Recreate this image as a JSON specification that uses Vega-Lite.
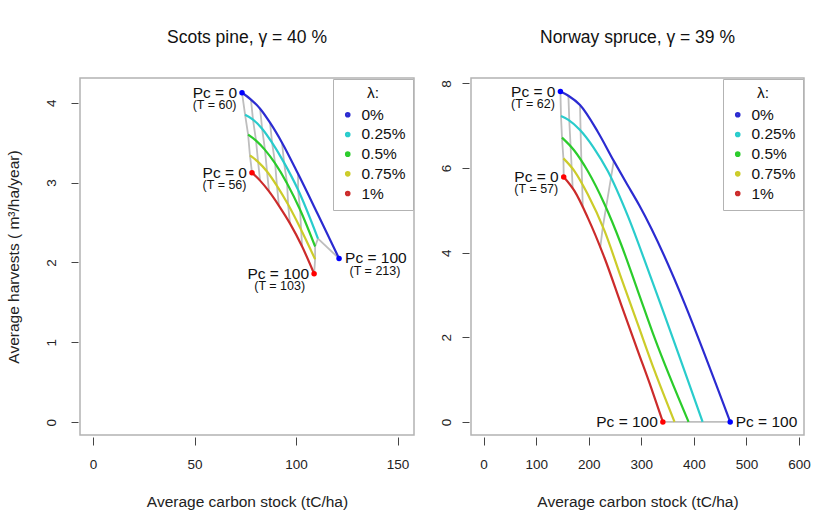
{
  "$schema": "https://vega.github.io/schema/vega-lite/v6.json",
  "background": "white",
  "padding": {"left": 5, "top": 28, "right": 5, "bottom": 5},
  "spacing": 57,
  "bounds": "flush",
  "datasets": {
    "curves": [
      {"p": "pine", "lam": "0%", "k": 0, "x": 73.4, "y": 4.125},
      {"p": "pine", "lam": "0%", "k": 1, "x": 77.8, "y": 4.04},
      {"p": "pine", "lam": "0%", "k": 2, "x": 82.3, "y": 3.925},
      {"p": "pine", "lam": "0%", "k": 3, "x": 87.2, "y": 3.75},
      {"p": "pine", "lam": "0%", "k": 4, "x": 93.1, "y": 3.5},
      {"p": "pine", "lam": "0%", "k": 5, "x": 101.0, "y": 3.11},
      {"p": "pine", "lam": "0%", "k": 6, "x": 110.8, "y": 2.6},
      {"p": "pine", "lam": "0%", "k": 7, "x": 121.2, "y": 2.05},
      {"p": "pine", "lam": "0.25%", "k": 0, "x": 74.9, "y": 3.85},
      {"p": "pine", "lam": "0.25%", "k": 1, "x": 78.8, "y": 3.79},
      {"p": "pine", "lam": "0.25%", "k": 2, "x": 83.3, "y": 3.675},
      {"p": "pine", "lam": "0.25%", "k": 3, "x": 88.2, "y": 3.5},
      {"p": "pine", "lam": "0.25%", "k": 4, "x": 94.1, "y": 3.25},
      {"p": "pine", "lam": "0.25%", "k": 5, "x": 101.0, "y": 2.91},
      {"p": "pine", "lam": "0.25%", "k": 6, "x": 110.8, "y": 2.3},
      {"p": "pine", "lam": "0.5%", "k": 0, "x": 76.4, "y": 3.6},
      {"p": "pine", "lam": "0.5%", "k": 1, "x": 80.3, "y": 3.525},
      {"p": "pine", "lam": "0.5%", "k": 2, "x": 84.7, "y": 3.41},
      {"p": "pine", "lam": "0.5%", "k": 3, "x": 89.7, "y": 3.24},
      {"p": "pine", "lam": "0.5%", "k": 4, "x": 95.6, "y": 2.99},
      {"p": "pine", "lam": "0.5%", "k": 5, "x": 102.0, "y": 2.66},
      {"p": "pine", "lam": "0.5%", "k": 6, "x": 109.4, "y": 2.2},
      {"p": "pine", "lam": "0.75%", "k": 0, "x": 77.3, "y": 3.34},
      {"p": "pine", "lam": "0.75%", "k": 1, "x": 81.3, "y": 3.26},
      {"p": "pine", "lam": "0.75%", "k": 2, "x": 85.7, "y": 3.14},
      {"p": "pine", "lam": "0.75%", "k": 3, "x": 90.6, "y": 2.96},
      {"p": "pine", "lam": "0.75%", "k": 4, "x": 96.1, "y": 2.725},
      {"p": "pine", "lam": "0.75%", "k": 5, "x": 102.5, "y": 2.41},
      {"p": "pine", "lam": "0.75%", "k": 6, "x": 109.4, "y": 2.04},
      {"p": "pine", "lam": "1%", "k": 0, "x": 78.3, "y": 3.125},
      {"p": "pine", "lam": "1%", "k": 1, "x": 82.3, "y": 3.025},
      {"p": "pine", "lam": "1%", "k": 2, "x": 86.7, "y": 2.89},
      {"p": "pine", "lam": "1%", "k": 3, "x": 91.6, "y": 2.71},
      {"p": "pine", "lam": "1%", "k": 4, "x": 97.0, "y": 2.49},
      {"p": "pine", "lam": "1%", "k": 5, "x": 103.0, "y": 2.2},
      {"p": "pine", "lam": "1%", "k": 6, "x": 108.9, "y": 1.86},
      {"p": "spruce", "lam": "0%", "k": 0, "x": 146.1, "y": 7.81},
      {"p": "spruce", "lam": "0%", "k": 1, "x": 161.3, "y": 7.71},
      {"p": "spruce", "lam": "0%", "k": 2, "x": 183.4, "y": 7.49},
      {"p": "spruce", "lam": "0%", "k": 3, "x": 217.1, "y": 6.86},
      {"p": "spruce", "lam": "0%", "k": 4, "x": 247.6, "y": 6.17},
      {"p": "spruce", "lam": "0%", "k": 5, "x": 270.5, "y": 5.67},
      {"p": "spruce", "lam": "0%", "k": 6, "x": 296.6, "y": 5.11},
      {"p": "spruce", "lam": "0%", "k": 7, "x": 469.1, "y": 0},
      {"p": "spruce", "lam": "0.25%", "k": 0, "x": 147.2, "y": 7.23},
      {"p": "spruce", "lam": "0.25%", "k": 1, "x": 161.3, "y": 7.14},
      {"p": "spruce", "lam": "0.25%", "k": 2, "x": 183.4, "y": 6.9},
      {"p": "spruce", "lam": "0.25%", "k": 3, "x": 209.5, "y": 6.48},
      {"p": "spruce", "lam": "0.25%", "k": 4, "x": 236.2, "y": 5.93},
      {"p": "spruce", "lam": "0.25%", "k": 5, "x": 274.3, "y": 4.87},
      {"p": "spruce", "lam": "0.25%", "k": 6, "x": 315.6, "y": 3.5},
      {"p": "spruce", "lam": "0.25%", "k": 7, "x": 416.6, "y": 0},
      {"p": "spruce", "lam": "0.5%", "k": 0, "x": 149.1, "y": 6.72},
      {"p": "spruce", "lam": "0.5%", "k": 1, "x": 172.8, "y": 6.41},
      {"p": "spruce", "lam": "0.5%", "k": 2, "x": 198.1, "y": 5.93},
      {"p": "spruce", "lam": "0.5%", "k": 3, "x": 229.9, "y": 5.15},
      {"p": "spruce", "lam": "0.5%", "k": 4, "x": 261.5, "y": 4.2},
      {"p": "spruce", "lam": "0.5%", "k": 5, "x": 293.3, "y": 3.1},
      {"p": "spruce", "lam": "0.5%", "k": 6, "x": 325.1, "y": 1.99},
      {"p": "spruce", "lam": "0.5%", "k": 7, "x": 389.9, "y": 0},
      {"p": "spruce", "lam": "0.75%", "k": 0, "x": 151.8, "y": 6.23},
      {"p": "spruce", "lam": "0.75%", "k": 1, "x": 172.8, "y": 5.93},
      {"p": "spruce", "lam": "0.75%", "k": 2, "x": 198.1, "y": 5.38},
      {"p": "spruce", "lam": "0.75%", "k": 3, "x": 229.9, "y": 4.52},
      {"p": "spruce", "lam": "0.75%", "k": 4, "x": 261.5, "y": 3.41},
      {"p": "spruce", "lam": "0.75%", "k": 5, "x": 293.3, "y": 2.31},
      {"p": "spruce", "lam": "0.75%", "k": 6, "x": 325.1, "y": 1.21},
      {"p": "spruce", "lam": "0.75%", "k": 7, "x": 363.2, "y": 0},
      {"p": "spruce", "lam": "1%", "k": 0, "x": 152.4, "y": 5.79},
      {"p": "spruce", "lam": "1%", "k": 1, "x": 172.8, "y": 5.46},
      {"p": "spruce", "lam": "1%", "k": 2, "x": 198.1, "y": 4.83},
      {"p": "spruce", "lam": "1%", "k": 3, "x": 229.9, "y": 3.88},
      {"p": "spruce", "lam": "1%", "k": 4, "x": 261.5, "y": 2.78},
      {"p": "spruce", "lam": "1%", "k": 5, "x": 293.3, "y": 1.68},
      {"p": "spruce", "lam": "1%", "k": 6, "x": 318.7, "y": 0.81},
      {"p": "spruce", "lam": "1%", "k": 7, "x": 341.0, "y": 0}
    ],
    "iso": [
      {"p": "pine", "g": "s", "o": 0, "x": 73.4, "y": 4.125},
      {"p": "pine", "g": "s", "o": 1, "x": 74.9, "y": 3.85},
      {"p": "pine", "g": "s", "o": 2, "x": 76.4, "y": 3.6},
      {"p": "pine", "g": "s", "o": 3, "x": 77.3, "y": 3.34},
      {"p": "pine", "g": "s", "o": 4, "x": 78.3, "y": 3.125},
      {"p": "pine", "g": "a", "o": 0, "x": 77.8, "y": 4.04},
      {"p": "pine", "g": "a", "o": 1, "x": 78.8, "y": 3.79},
      {"p": "pine", "g": "a", "o": 2, "x": 80.3, "y": 3.525},
      {"p": "pine", "g": "a", "o": 3, "x": 81.3, "y": 3.26},
      {"p": "pine", "g": "a", "o": 4, "x": 82.3, "y": 3.025},
      {"p": "pine", "g": "b", "o": 0, "x": 82.3, "y": 3.925},
      {"p": "pine", "g": "b", "o": 1, "x": 83.3, "y": 3.675},
      {"p": "pine", "g": "b", "o": 2, "x": 84.7, "y": 3.41},
      {"p": "pine", "g": "b", "o": 3, "x": 85.7, "y": 3.14},
      {"p": "pine", "g": "b", "o": 4, "x": 86.7, "y": 2.89},
      {"p": "pine", "g": "c", "o": 0, "x": 87.2, "y": 3.75},
      {"p": "pine", "g": "c", "o": 1, "x": 88.2, "y": 3.5},
      {"p": "pine", "g": "c", "o": 2, "x": 89.7, "y": 3.24},
      {"p": "pine", "g": "c", "o": 3, "x": 90.6, "y": 2.96},
      {"p": "pine", "g": "c", "o": 4, "x": 91.6, "y": 2.71},
      {"p": "pine", "g": "d", "o": 0, "x": 93.1, "y": 3.5},
      {"p": "pine", "g": "d", "o": 1, "x": 94.1, "y": 3.25},
      {"p": "pine", "g": "d", "o": 2, "x": 95.6, "y": 2.99},
      {"p": "pine", "g": "d", "o": 3, "x": 96.1, "y": 2.725},
      {"p": "pine", "g": "d", "o": 4, "x": 97.0, "y": 2.49},
      {"p": "pine", "g": "e", "o": 0, "x": 101.0, "y": 3.11},
      {"p": "pine", "g": "e", "o": 1, "x": 101.0, "y": 2.91},
      {"p": "pine", "g": "e", "o": 2, "x": 102.0, "y": 2.66},
      {"p": "pine", "g": "e", "o": 3, "x": 102.5, "y": 2.41},
      {"p": "pine", "g": "e", "o": 4, "x": 103.0, "y": 2.2},
      {"p": "pine", "g": "z", "o": 0, "x": 121.2, "y": 2.05},
      {"p": "pine", "g": "z", "o": 1, "x": 110.8, "y": 2.3},
      {"p": "pine", "g": "z", "o": 2, "x": 109.4, "y": 2.2},
      {"p": "pine", "g": "z", "o": 3, "x": 109.4, "y": 2.04},
      {"p": "pine", "g": "z", "o": 4, "x": 108.9, "y": 1.86},
      {"p": "spruce", "g": "s", "o": 0, "x": 146.1, "y": 7.81},
      {"p": "spruce", "g": "s", "o": 1, "x": 147.2, "y": 7.23},
      {"p": "spruce", "g": "s", "o": 2, "x": 149.1, "y": 6.72},
      {"p": "spruce", "g": "s", "o": 3, "x": 151.8, "y": 6.23},
      {"p": "spruce", "g": "s", "o": 4, "x": 152.4, "y": 5.79},
      {"p": "spruce", "g": "a", "o": 0, "x": 161.3, "y": 7.71},
      {"p": "spruce", "g": "a", "o": 1, "x": 163.0, "y": 7.12},
      {"p": "spruce", "g": "a", "o": 2, "x": 165.5, "y": 6.51},
      {"p": "spruce", "g": "a", "o": 3, "x": 167.5, "y": 6.01},
      {"p": "spruce", "g": "a", "o": 4, "x": 169.5, "y": 5.51},
      {"p": "spruce", "g": "b", "o": 0, "x": 183.4, "y": 7.49},
      {"p": "spruce", "g": "b", "o": 1, "x": 184.5, "y": 6.88},
      {"p": "spruce", "g": "b", "o": 2, "x": 186.0, "y": 6.16},
      {"p": "spruce", "g": "b", "o": 3, "x": 187.5, "y": 5.61},
      {"p": "spruce", "g": "b", "o": 4, "x": 188.6, "y": 5.07},
      {"p": "spruce", "g": "c", "o": 0, "x": 247.6, "y": 6.17},
      {"p": "spruce", "g": "c", "o": 1, "x": 241.9, "y": 5.74},
      {"p": "spruce", "g": "c", "o": 2, "x": 232.8, "y": 5.06},
      {"p": "spruce", "g": "c", "o": 3, "x": 226.7, "y": 4.6},
      {"p": "spruce", "g": "c", "o": 4, "x": 221.9, "y": 4.12},
      {"p": "spruce", "g": "z", "o": 0, "x": 469.1, "y": 0},
      {"p": "spruce", "g": "z", "o": 1, "x": 416.6, "y": 0},
      {"p": "spruce", "g": "z", "o": 2, "x": 389.9, "y": 0},
      {"p": "spruce", "g": "z", "o": 3, "x": 363.2, "y": 0},
      {"p": "spruce", "g": "z", "o": 4, "x": 341.0, "y": 0}
    ],
    "ends": [
      {"p": "pine", "lam": "0%", "kind": "start", "x": 73.4, "y": 4.125, "pc": "Pc = 0", "t": "(T = 60)"},
      {"p": "pine", "lam": "1%", "kind": "start", "x": 78.3, "y": 3.125, "pc": "Pc = 0", "t": "(T = 56)"},
      {"p": "pine", "lam": "0%", "kind": "end", "x": 121.2, "y": 2.05, "pc": "Pc = 100", "t": "(T = 213)"},
      {"p": "pine", "lam": "1%", "kind": "end", "x": 108.9, "y": 1.86, "pc": "Pc = 100", "t": "(T = 103)"},
      {"p": "spruce", "lam": "0%", "kind": "start", "x": 146.1, "y": 7.81, "pc": "Pc = 0", "t": "(T = 62)"},
      {"p": "spruce", "lam": "1%", "kind": "start", "x": 152.4, "y": 5.79, "pc": "Pc = 0", "t": "(T = 57)"},
      {"p": "spruce", "lam": "0%", "kind": "end", "x": 469.1, "y": 0, "pc": "Pc = 100", "t": ""},
      {"p": "spruce", "lam": "1%", "kind": "end", "x": 341.0, "y": 0, "pc": "Pc = 100", "t": ""}
    ]
  },
  "hconcat": [
    {
      "width": 334,
      "height": 357,
      "title": {"text": "Scots pine, γ = 40 %"},
      "encoding": {
        "x": {
          "field": "x", "type": "quantitative",
          "scale": {"domain": [-6.4, 158.1], "nice": false, "zero": false},
          "axis": {"values": [0, 50, 100, 150], "title": "Average carbon stock (tC/ha)"}
        },
        "y": {
          "field": "y", "type": "quantitative",
          "scale": {"domain": [-0.16, 4.31], "nice": false, "zero": false},
          "axis": {"values": [0, 1, 2, 3, 4], "labelPadding": 20, "titlePadding": 22.5, "title": "Average harvests ( m³/ha/year)"}
        }
      },
      "layer": [
        {
          "data": {"name": "iso"},
          "transform": [{"filter": "datum.p == 'pine'"}],
          "mark": {"type": "line", "color": "#bebebe", "strokeWidth": 1.8},
          "encoding": {"detail": {"field": "g"}, "order": {"field": "o"}}
        },
        {
          "data": {"name": "curves"},
          "transform": [{"filter": "datum.p == 'pine'"}],
          "mark": {"type": "line", "strokeWidth": 2.2, "interpolate": "monotone"},
          "encoding": {
            "order": {"field": "k"},
            "color": {
              "field": "lam", "type": "nominal",
              "scale": {"domain": ["0%", "0.25%", "0.5%", "0.75%", "1%"], "range": ["#2B2BD1", "#29CCCC", "#2BCC2B", "#CCCC29", "#CC2B2B"]},
              "legend": {"title": "λ:", "symbolType": "circle", "symbolSize": 7, "symbolStrokeWidth": 3}
            }
          }
        },
        {
          "data": {"name": "ends"},
          "transform": [{"filter": "datum.p == 'pine' && datum.lam == '0%'"}],
          "mark": {"type": "circle", "size": 30, "opacity": 1, "color": "#0000ff"}
        },
        {
          "data": {"name": "ends"},
          "transform": [{"filter": "datum.p == 'pine' && datum.lam == '1%'"}],
          "mark": {"type": "circle", "size": 30, "opacity": 1, "color": "#ff0000"}
        },
        {
          "data": {"name": "ends"},
          "transform": [{"filter": "datum.p == 'pine' && (datum.kind == 'start' || datum.lam == '1%')"}],
          "mark": {"type": "text", "align": "right", "baseline": "middle", "dx": -5, "fontSize": 15.5},
          "encoding": {"text": {"field": "pc"}}
        },
        {
          "data": {"name": "ends"},
          "transform": [{"filter": "datum.p == 'pine' && datum.kind == 'end' && datum.lam == '0%'"}],
          "mark": {"type": "text", "align": "left", "baseline": "middle", "dx": 6, "fontSize": 15.5},
          "encoding": {"text": {"field": "pc"}}
        },
        {
          "data": {"name": "ends"},
          "transform": [{"filter": "datum.p == 'pine' && datum.kind == 'start'"}],
          "mark": {"type": "text", "align": "right", "baseline": "middle", "dx": -5.5, "dy": 12.5, "fontSize": 12.5},
          "encoding": {"text": {"field": "t"}}
        },
        {
          "data": {"name": "ends"},
          "transform": [{"filter": "datum.p == 'pine' && datum.kind == 'end' && datum.lam == '1%'"}],
          "mark": {"type": "text", "align": "right", "baseline": "middle", "dx": -9, "dy": 12.5, "fontSize": 12.5},
          "encoding": {"text": {"field": "t"}}
        },
        {
          "data": {"name": "ends"},
          "transform": [{"filter": "datum.p == 'pine' && datum.kind == 'end' && datum.lam == '0%'"}],
          "mark": {"type": "text", "align": "left", "baseline": "middle", "dx": 10.5, "dy": 12.5, "fontSize": 12.5},
          "encoding": {"text": {"field": "t"}}
        }
      ]
    },
    {
      "width": 333,
      "height": 357,
      "title": {"text": "Norway spruce, γ = 39 %"},
      "encoding": {
        "x": {
          "field": "x", "type": "quantitative",
          "scale": {"domain": [-24, 609.5], "nice": false, "zero": false},
          "axis": {"values": [0, 100, 200, 300, 400, 500, 600], "title": "Average carbon stock (tC/ha)"}
        },
        "y": {
          "field": "y", "type": "quantitative",
          "scale": {"domain": [-0.31, 8.13], "nice": false, "zero": false},
          "axis": {"values": [0, 2, 4, 6, 8], "labelPadding": 16, "title": null}
        }
      },
      "layer": [
        {
          "data": {"name": "iso"},
          "transform": [{"filter": "datum.p == 'spruce'"}],
          "mark": {"type": "line", "color": "#bebebe", "strokeWidth": 1.8},
          "encoding": {"detail": {"field": "g"}, "order": {"field": "o"}}
        },
        {
          "data": {"name": "curves"},
          "transform": [{"filter": "datum.p == 'spruce'"}],
          "mark": {"type": "line", "strokeWidth": 2.2, "interpolate": "monotone"},
          "encoding": {
            "order": {"field": "k"},
            "color": {
              "field": "lam", "type": "nominal",
              "scale": {"domain": ["0%", "0.25%", "0.5%", "0.75%", "1%"], "range": ["#2B2BD1", "#29CCCC", "#2BCC2B", "#CCCC29", "#CC2B2B"]},
              "legend": {"title": "λ:", "symbolType": "circle", "symbolSize": 7, "symbolStrokeWidth": 3}
            }
          }
        },
        {
          "data": {"name": "ends"},
          "transform": [{"filter": "datum.p == 'spruce' && datum.lam == '0%'"}],
          "mark": {"type": "circle", "size": 30, "opacity": 1, "color": "#0000ff"}
        },
        {
          "data": {"name": "ends"},
          "transform": [{"filter": "datum.p == 'spruce' && datum.lam == '1%'"}],
          "mark": {"type": "circle", "size": 30, "opacity": 1, "color": "#ff0000"}
        },
        {
          "data": {"name": "ends"},
          "transform": [{"filter": "datum.p == 'spruce' && (datum.kind == 'start' || datum.lam == '1%')"}],
          "mark": {"type": "text", "align": "right", "baseline": "middle", "dx": -5, "fontSize": 15.5},
          "encoding": {"text": {"field": "pc"}}
        },
        {
          "data": {"name": "ends"},
          "transform": [{"filter": "datum.p == 'spruce' && datum.kind == 'end' && datum.lam == '0%'"}],
          "mark": {"type": "text", "align": "left", "baseline": "middle", "dx": 5.5, "fontSize": 15.5},
          "encoding": {"text": {"field": "pc"}}
        },
        {
          "data": {"name": "ends"},
          "transform": [{"filter": "datum.p == 'spruce' && datum.kind == 'start'"}],
          "mark": {"type": "text", "align": "right", "baseline": "middle", "dx": -5.5, "dy": 12.5, "fontSize": 12.5},
          "encoding": {"text": {"field": "t"}}
        }
      ]
    }
  ],
  "resolve": {"scale": {"color": "independent"}, "legend": {"color": "independent"}},
  "config": {
    "font": "Liberation Sans",
    "view": {"stroke": "#b3b3b3", "strokeWidth": 1.5},
    "title": {"font": "Liberation Sans", "fontSize": 17.5, "fontWeight": "normal", "color": "#111", "baseline": "bottom", "offset": 31.5, "anchor": "middle"},
    "text": {"font": "Liberation Sans", "color": "#111"},
    "axis": {
      "domain": false, "grid": false,
      "labelFont": "Liberation Sans", "titleFont": "Liberation Sans",
      "labelFontSize": 13.5, "titleFontSize": 15.5, "titleFontWeight": "normal",
      "labelColor": "#222", "titleColor": "#222", "tickColor": "#444", "tickWidth": 1,
      "labelFlush": false, "labelOverlap": false, "labelBound": false
    },
    "axisX": {"offset": 2, "tickSize": 8, "labelPadding": 12.5, "titlePadding": 23},
    "axisY": {"offset": 2, "tickSize": 7, "labelAngle": 270, "labelAlign": "center", "labelBaseline": "middle", "titlePadding": 18},
    "legend": {
      "orient": "top-right", "offset": 1,
      "strokeColor": "#b3b3b3", "fillColor": "white", "padding": 7,
      "titleFont": "Liberation Sans", "titleFontSize": 15.5, "titleFontWeight": "normal", "titleColor": "#111",
      "titleAnchor": "middle",
      "labelFont": "Liberation Sans", "labelFontSize": 15.5, "labelColor": "#111",
      "rowPadding": 2.7, "labelOffset": 6, "titlePadding": 5.5
    }
  }
}
